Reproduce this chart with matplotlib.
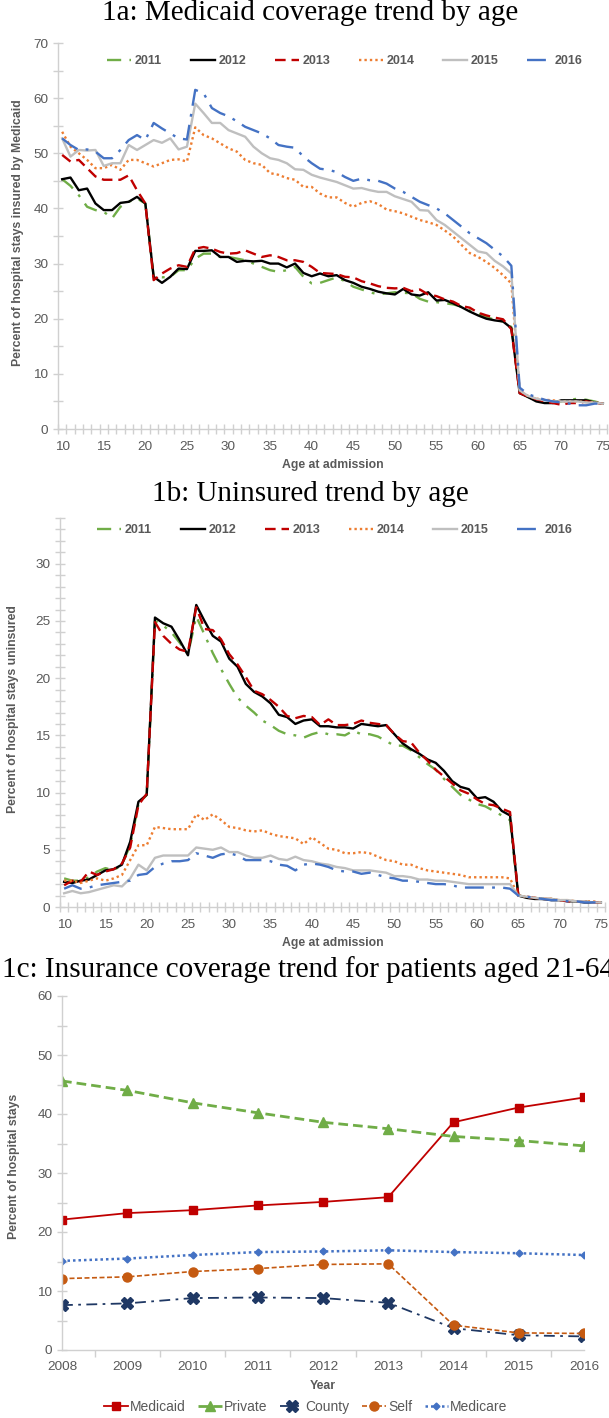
import matplotlib
matplotlib.use('Agg')
import matplotlib.pyplot as plt
from matplotlib.ticker import MultipleLocator, FixedLocator
import numpy as np

W, H = 609, 1418

plt.rcParams['font.family'] = ['Liberation Sans', 'DejaVu Sans']

# ---- 1a / 1b data: share of stays by age at admission ----
ages = list(range(10, 76))
year_labels = ['2011', '2012', '2013', '2014', '2015', '2016']

medicaid_2011 = [45.3, 44.1, 42.4, 40.3, 39.7, 39.4, 38.2, 40.3, 41.2, 41.8, 40.9,
                 27.6, 27.5, 27.6, 28.8, 28.8, 30.9, 31.8, 31.8, 31.2, 31.2,
                 30.9, 30.6, 30.0, 29.4, 28.8, 28.5, 28.8, 29.4, 27.6, 26.4,
                 26.5, 27.0, 27.5, 26.8, 25.8, 25.3, 24.8, 24.4, 24.6, 24.8,
                 24.7, 24.6, 23.6, 23.1, 23.0, 22.8, 22.6, 22.2, 21.5, 21.0,
                 20.3, 19.8, 19.5, 18.5, 6.8, 5.8, 5.2, 5.0, 5.0, 5.0,
                 5.3, 5.5, 5.3, 5.0, 4.6]
medicaid_2012 = [45.3, 45.6, 43.3, 43.6, 40.9, 39.7, 39.7, 41.0, 41.2, 42.1, 40.9,
                 27.6, 26.5, 27.6, 29.1, 29.0, 32.3, 32.3, 32.4, 31.2, 31.2,
                 30.3, 30.5, 30.4, 30.5, 30.0, 30.0, 29.3, 30.0, 28.3, 27.7,
                 28.2, 27.7, 27.9, 27.0, 26.5, 25.8, 25.4, 24.9, 24.6, 24.4,
                 25.4, 24.4, 24.2, 24.8, 23.3, 23.4, 22.8, 22.1, 21.3, 20.6,
                 20.0, 19.7, 19.5, 18.3, 6.5, 5.8, 5.0, 4.7, 4.7, 5.2,
                 5.2, 5.2, 5.2, 4.8, 4.6]
medicaid_2013 = [49.7, 48.5, 48.8, 47.3, 45.8, 45.2, 45.2, 45.2, 46.0, 43.3, 40.9,
                 27.0, 28.2, 29.1, 29.7, 29.4, 32.7, 33.0, 32.7, 32.1, 31.8,
                 31.9, 32.4, 31.8, 31.2, 31.5, 31.2, 30.6, 30.6, 30.3, 29.4,
                 28.3, 28.2, 28.1, 27.6, 27.5, 26.8, 26.4, 25.9, 25.6, 25.5,
                 25.6, 25.0, 25.3, 24.4, 24.1, 23.5, 23.1, 22.3, 22.0, 21.1,
                 20.6, 20.2, 19.9, 18.1, 6.5, 5.9, 5.4, 5.0, 4.7, 4.4,
                 4.7, 4.7, 5.0, 4.8, 4.6]
medicaid_2014 = [53.9, 51.2, 50.0, 48.8, 47.3, 47.3, 47.9, 47.0, 48.8, 48.8, 48.2,
                 47.6, 48.2, 48.8, 48.9, 48.5, 54.7, 53.3, 52.7, 51.8, 50.9,
                 50.3, 48.8, 48.2, 47.9, 46.4, 46.1, 45.5, 45.2, 43.9, 43.9,
                 42.7, 42.0, 42.0, 41.0, 40.3, 41.0, 41.3, 40.8, 39.8, 39.5,
                 39.1, 38.5, 37.9, 37.5, 37.0, 36.0, 34.9, 33.4, 31.9, 31.2,
                 30.3, 29.2, 27.9, 26.4, 7.0, 6.0, 5.5, 5.3, 5.2, 5.0,
                 5.0, 5.0, 4.9, 4.8, 4.6]
medicaid_2015 = [52.7, 49.4, 50.6, 50.5, 50.6, 47.7, 48.2, 48.2, 51.5, 50.6, 51.5,
                 52.4, 51.9, 52.7, 50.7, 51.2, 59.0, 57.3, 55.5, 55.5, 54.2,
                 53.6, 53.0, 51.2, 50.0, 49.1, 48.8, 48.2, 47.1, 47.0, 46.1,
                 45.6, 45.2, 44.8, 44.2, 43.6, 43.7, 43.3, 43.0, 43.0, 42.2,
                 41.7, 41.2, 39.7, 39.6, 37.9, 37.0, 35.8, 34.6, 33.4, 32.2,
                 31.9, 30.5, 29.5, 28.2, 7.0, 6.0, 5.5, 5.2, 5.0, 5.0,
                 5.0, 5.0, 4.8, 4.8, 4.6]
medicaid_2016 = [52.7, 51.5, 50.6, 50.7, 50.3, 49.1, 49.1, 50.6, 52.4, 53.3, 52.4,
                 55.5, 54.5, 53.6, 52.7, 52.5, 61.5, 60.9, 58.2, 57.3, 56.7,
                 55.8, 54.8, 54.2, 53.6, 52.7, 51.5, 51.2, 51.0, 49.4, 48.2,
                 47.2, 47.0, 46.6, 45.7, 45.0, 45.4, 45.1, 45.0, 44.5, 43.6,
                 43.0, 42.1, 41.2, 40.6, 40.0, 39.1, 37.9, 36.7, 35.5, 34.6,
                 33.7, 32.5, 31.3, 29.6, 7.5, 6.3, 5.8, 5.3, 5.0, 4.8,
                 4.6, 4.3, 4.3, 4.6, 4.6]

uninsured_2011 = [2.5, 2.3, 2.3, 2.6, 3.1, 3.4, 3.2, 3.7, 5.4, 9.0, 9.8,
                  25.0, 24.6, 24.0, 23.1, 22.1, 25.4, 23.8, 22.2, 20.8, 19.5,
                  18.3, 17.6, 17.0, 16.3, 15.9, 15.4, 15.1, 15.0, 14.8, 15.1,
                  15.3, 15.1, 15.1, 15.0, 15.4, 15.1, 15.1, 14.9, 14.5, 14.1,
                  14.1, 13.7, 13.1, 12.5, 12.0, 11.2, 10.5, 9.8, 9.4, 9.0,
                  8.8, 8.4, 8.0, 7.6, 1.0, 0.9, 0.8, 0.7, 0.7, 0.6,
                  0.6, 0.5, 0.5, 0.4, 0.4]
uninsured_2012 = [2.2, 2.1, 2.3, 2.4, 2.8, 3.2, 3.3, 3.7, 5.7, 9.2, 9.8,
                  25.3, 24.8, 24.5, 23.3, 22.0, 26.4, 25.0, 23.7, 23.2, 21.7,
                  21.0, 19.5, 18.8, 18.4, 17.8, 16.8, 16.6, 16.0, 16.3, 16.4,
                  15.8, 15.8, 15.7, 15.7, 15.6, 16.0, 15.9, 15.8, 15.9, 15.1,
                  14.3, 13.8, 13.4, 12.9, 12.6, 11.9, 11.0, 10.5, 10.3, 9.5,
                  9.6, 9.2, 8.4, 8.0, 1.0, 0.8, 0.7, 0.7, 0.6, 0.6,
                  0.5, 0.5, 0.4, 0.4, 0.4]
uninsured_2013 = [1.9, 2.3, 2.2, 3.1, 2.8, 3.1, 3.3, 3.8, 5.2, 8.9, 9.9,
                  24.9, 23.7, 23.0, 22.5, 22.3, 26.2, 24.3, 24.2, 23.4, 22.1,
                  21.2, 20.1, 18.9, 18.6, 18.1, 17.5, 16.7, 16.5, 16.7, 16.6,
                  15.9, 16.4, 15.9, 15.9, 16.0, 16.3, 16.1, 16.0, 15.9, 15.1,
                  14.5, 14.4, 13.5, 12.8, 12.0, 11.4, 10.8, 10.2, 9.9, 9.4,
                  9.0, 8.9, 8.6, 8.3, 1.0, 0.9, 0.8, 0.7, 0.7, 0.6,
                  0.5, 0.5, 0.5, 0.4, 0.4]
uninsured_2014 = [2.3, 2.3, 2.1, 2.3, 2.5, 2.3, 2.5, 2.8, 4.1, 5.4, 5.4,
                  7.0, 6.9, 6.8, 6.8, 6.8, 8.1, 7.6, 8.1, 7.6, 7.0,
                  6.9, 6.7, 6.6, 6.7, 6.4, 6.2, 6.1, 6.0, 5.5, 6.1,
                  5.6, 5.1, 5.0, 4.7, 4.7, 4.8, 4.7, 4.4, 4.1, 4.0,
                  3.7, 3.7, 3.4, 3.2, 3.1, 3.0, 2.9, 2.8, 2.6, 2.6,
                  2.6, 2.6, 2.6, 2.5, 1.0, 0.9, 0.8, 0.7, 0.7, 0.6,
                  0.6, 0.5, 0.5, 0.5, 0.4]
uninsured_2015 = [1.2, 1.4, 1.2, 1.3, 1.5, 1.7, 1.9, 1.8, 2.5, 3.7, 3.2,
                  4.3, 4.5, 4.5, 4.5, 4.5, 5.2, 5.1, 5.0, 5.2, 4.8,
                  4.8, 4.5, 4.3, 4.3, 4.5, 4.2, 4.1, 4.4, 4.1, 4.0,
                  3.8, 3.7, 3.5, 3.4, 3.2, 3.2, 3.2, 3.1, 3.0, 2.7,
                  2.7, 2.6, 2.4, 2.4, 2.3, 2.3, 2.2, 2.1, 2.0, 2.0,
                  2.0, 2.0, 2.0, 2.0, 1.0, 0.9, 0.8, 0.7, 0.7, 0.6,
                  0.6, 0.5, 0.5, 0.4, 0.4]
uninsured_2016 = [1.6, 1.9, 1.6, 1.7, 1.9, 2.0, 2.1, 2.2, 2.3, 2.8, 2.9,
                  3.5, 3.8, 4.0, 4.0, 4.1, 4.7, 4.5, 4.3, 4.6, 4.7,
                  4.5, 4.1, 4.1, 4.1, 4.0, 3.7, 3.6, 3.2, 3.7, 3.8,
                  3.7, 3.5, 3.2, 3.1, 3.1, 2.9, 3.0, 2.8, 2.6, 2.5,
                  2.3, 2.3, 2.2, 2.1, 2.0, 2.0, 1.9, 1.7, 1.7, 1.7,
                  1.7, 1.7, 1.7, 1.6, 1.0, 0.9, 0.8, 0.7, 0.6, 0.6,
                  0.5, 0.5, 0.4, 0.4, 0.4]

# ---- 1c data: coverage for patients aged 21-64 by year ----
years = [2008, 2009, 2010, 2011, 2012, 2013, 2014, 2015, 2016]
cov_medicaid = [22.1, 23.2, 23.7, 24.5, 25.1, 25.9, 38.6, 41.1, 42.8]
cov_private = [45.6, 44.0, 41.9, 40.2, 38.6, 37.5, 36.2, 35.5, 34.6]
cov_county = [7.6, 7.9, 8.8, 8.9, 8.8, 8.0, 3.7, 2.5, 2.3]
cov_self = [12.1, 12.4, 13.3, 13.8, 14.5, 14.6, 4.2, 2.9, 2.8]
cov_medicare = [15.1, 15.5, 16.1, 16.6, 16.7, 16.9, 16.6, 16.4, 16.1]

text_grey = '#595959'
axis_grey = '#D0D0D0'

year_styles = [
    dict(color='#70AD47', dashes=(6, 3.5, 1.2, 3.5)),
    dict(color='black'),
    dict(color='#C00000', dashes=(4.5, 2.5)),
    dict(color='#ED7D31', dashes=(1, 1.3)),
    dict(color='#BFBFBF'),
    dict(color='#4472C4', dashes=(8, 3.5, 1.2, 3.5)),
]


def fx(px):
    return px / W


def fy(py):
    return 1 - py / H


def base_axes(rect):
    ax = fig.add_axes(rect)
    for s in ['top', 'right']:
        ax.spines[s].set_visible(False)
    for s in ['left', 'bottom']:
        ax.spines[s].set_color(axis_grey)
        ax.spines[s].set_linewidth(1.0)
    ax.tick_params(which='both', colors=axis_grey, labelcolor=text_grey,
                   labelsize=9.7, width=1.0)
    return ax


def age_panel(ax, series, ymax, ymajor, yminor, ylabel):
    for vals, lbl, st in zip(series, year_labels, year_styles):
        ax.plot(ages, vals, lw=1.7, label=lbl, **st)
    ax.set_xlim(9.5, 75.5)
    ax.set_ylim(0, ymax)
    ax.xaxis.set_major_locator(FixedLocator(list(range(10, 76, 5))))
    ax.xaxis.set_minor_locator(FixedLocator(list(np.arange(9.5, 76, 1.0))))
    ax.yaxis.set_major_locator(MultipleLocator(ymajor))
    ax.yaxis.set_minor_locator(MultipleLocator(yminor))
    ax.tick_params(axis='x', which='major', length=0, pad=9)
    ax.tick_params(axis='x', which='minor', direction='inout', length=7)
    ax.tick_params(axis='y', which='both', direction='inout', length=7)
    ax.set_ylabel(ylabel, fontsize=8.8, fontweight='bold', color=text_grey)
    ax.set_xlabel('Age at admission', fontsize=8.8, fontweight='bold',
                  color=text_grey, labelpad=4)


fig = plt.figure(figsize=(W / 100, H / 100), dpi=100)

# 1a
ax1 = base_axes([fx(58), fy(429), fx(607) - fx(58), (429 - 43) / H])
age_panel(ax1, [medicaid_2011, medicaid_2012, medicaid_2013, medicaid_2014,
                medicaid_2015, medicaid_2016],
          70, 10, 5, 'Percent of hospital stays insured by Medicaid')
ax1.yaxis.set_label_coords(-(58 - 24) / (607 - 58), 0.51)
ax1.legend(loc='center', bbox_to_anchor=(fx(345), fy(61)),
           bbox_transform=fig.transFigure, ncol=6, frameon=False,
           prop=dict(size=9, weight='bold'), labelcolor=text_grey,
           handlelength=1.9, handletextpad=0.3, columnspacing=2.3)

# 1b
ax2 = base_axes([fx(60), fy(907), fx(605) - fx(60), (907 - 518) / H])
age_panel(ax2, [uninsured_2011, uninsured_2012, uninsured_2013, uninsured_2014,
                uninsured_2015, uninsured_2016],
          34, 5, 1, 'Percent of hospital stays uninsured')
ax2.set_yticks([0, 5, 10, 15, 20, 25, 30])
ax2.yaxis.set_label_coords(-(60 - 19) / (605 - 60), 0.51)
ax2.legend(loc='center', bbox_to_anchor=(fx(335), fy(530)),
           bbox_transform=fig.transFigure, ncol=6, frameon=False,
           prop=dict(size=9, weight='bold'), labelcolor=text_grey,
           handlelength=1.9, handletextpad=0.3, columnspacing=2.3)

# 1c
ax3 = base_axes([fx(62), fy(1350), fx(584) - fx(62), (1350 - 996) / H])
ax3.plot(years, cov_medicaid, color='#C00000', lw=1.3, marker='s',
         markersize=6, label='Medicaid')
ax3.plot(years, cov_private, color='#70AD47', lw=2.0, ls=(0, (3.5, 1.8)),
         marker='^', markersize=6.5, label='Private')
ax3.plot(years, cov_county, color='#1F3864', lw=1.3, ls=(0, (6, 3, 1.5, 3)),
         marker='X', markersize=8, label='County')
ax3.plot(years, cov_self, color='#C55A11', lw=1.2, ls=(0, (3, 1.5)),
         marker='o', markersize=6.5, label='Self')
ax3.plot(years, cov_medicare, color='#4472C4', lw=1.8, ls=(0, (1, 1.2)),
         marker='D', markersize=3.5, label='Medicare')
ax3.set_xlim(2008, 2016)
ax3.set_ylim(0, 60)
ax3.xaxis.set_major_locator(FixedLocator(years))
ax3.xaxis.set_minor_locator(FixedLocator(list(np.arange(2008.5, 2016, 1.0))))
ax3.yaxis.set_major_locator(MultipleLocator(10))
ax3.yaxis.set_minor_locator(MultipleLocator(5))
ax3.tick_params(axis='x', which='major', length=0, pad=8)
ax3.tick_params(axis='x', which='minor', direction='out', length=5)
ax3.tick_params(axis='y', which='both', direction='inout', length=7)
ax3.set_xlabel('Year', fontsize=8.8, fontweight='bold', color=text_grey,
               labelpad=5)
ax3.set_ylabel('Percent of hospital stays', fontsize=8.8, fontweight='bold',
               color=text_grey)
ax3.yaxis.set_label_coords(-(62 - 20) / (584 - 62), 0.52)
ax3.legend(loc='center', bbox_to_anchor=(fx(306), fy(1407)),
           bbox_transform=fig.transFigure, ncol=5, frameon=False,
           fontsize=10, labelcolor=text_grey, handlelength=1.7,
           handletextpad=0.15, columnspacing=0.9)

# panel titles
title_font = dict(family='Liberation Serif', fontsize=21, color='black')
fig.text(fx(310), fy(13), '1a: Medicaid coverage trend by age',
         ha='center', va='center', **title_font)
fig.text(fx(310), fy(494), '1b: Uninsured trend by age',
         ha='center', va='center', **title_font)
fig.text(fx(2), fy(970), '1c: Insurance coverage trend for patients aged 21-64',
         ha='left', va='center', **title_font)

fig.savefig('out.png', dpi=100)
